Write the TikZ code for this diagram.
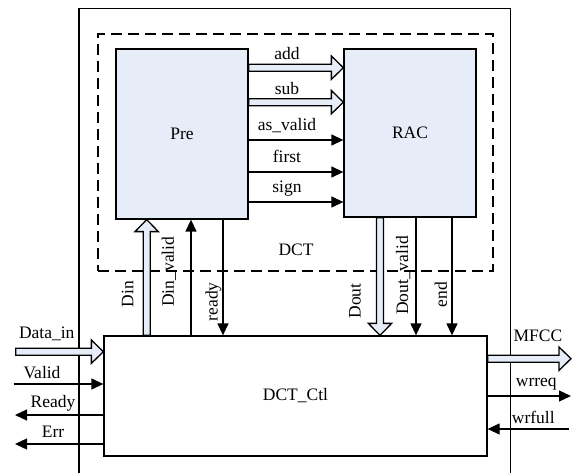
\documentclass[tikz,border=0pt]{standalone}
\usepackage{fontspec}
\setmainfont{Liberation Serif}
\usetikzlibrary{arrows.meta,calc}
\definecolor{boxfill}{HTML}{E6EDF8}
\begin{document}
\begin{tikzpicture}[x=1pt,y=-1pt,
  font=\fontsize{17.5}{20}\selectfont,
  box/.style={draw, fill=boxfill, rectangle, inner sep=0pt, line width=1.3pt},
  plainbox/.style={draw, fill=white, rectangle, inner sep=0pt, line width=1.3pt},
  dashbox/.style={draw, rectangle, inner sep=0pt, line width=2.3pt, dash pattern=on 11pt off 6pt},
  sig/.style={draw, line width=1.3pt, -{Triangle[length=12pt,width=11pt]}},
  lbl/.style={inner sep=0pt, anchor=base},
  vlbl/.style={inner sep=0pt, rotate=90},
  fat/.style={draw, fill=boxfill, line width=1.3pt, line join=miter},
  fatR/.style={fat, to path={let \p1=(\tikztostart), \p2=(\tikztotarget) in
     (\x1,\y1+3.5pt) -- (\x2-12pt,\y1+3.5pt) -- (\x2-12pt,\y1+11.7pt) -- (\x2,\y1)
     -- (\x2-12pt,\y1-11.7pt) -- (\x2-12pt,\y1-3.5pt) -- (\x1,\y1-3.5pt) -- cycle}},
  fatU/.style={fat, to path={let \p1=(\tikztostart), \p2=(\tikztotarget) in
     (\x1-3.5pt,\y1) -- (\x1-3.5pt,\y2-12pt) -- (\x1-11.7pt,\y2-12pt) -- (\x1,\y2)
     -- (\x1+11.7pt,\y2-12pt) -- (\x1+3.5pt,\y2-12pt) -- (\x1+3.5pt,\y1) -- cycle}},
  fatD/.style={fat, to path={let \p1=(\tikztostart), \p2=(\tikztotarget) in
     (\x1-3.5pt,\y1) -- (\x1-3.5pt,\y2+12pt) -- (\x1-11.7pt,\y2+12pt) -- (\x1,\y2)
     -- (\x1+11.7pt,\y2+12pt) -- (\x1+3.5pt,\y2+12pt) -- (\x1+3.5pt,\y1) -- cycle}}
]
\useasboundingbox (0,0) rectangle (573,473);

% outer frame
\draw[line width=1.2pt] (79,473) -- (79,8.3) -- (510.7,8.3) -- (510.7,473);

% DCT dashed region
\node[dashbox, minimum width=395pt, minimum height=237pt] (dctbox) at (295.5,152.5) {};
\node[lbl] (dctlbl) at (296,255) {DCT};

% blocks
\node[box, minimum width=132pt, minimum height=170pt] (Pre) at (182,134) {Pre};
\node[box, minimum width=132pt, minimum height=168pt] (RAC) at (410,133) {RAC};
\node[plainbox, minimum width=383pt, minimum height=120pt] (Ctl) at (295.5,396) {DCT\_Ctl};

% Pre -> RAC
\draw[fatR] (Pre.east |- 0,67.7) to (RAC.west |- 0,67.7);
\draw[fatR] (Pre.east |- 0,102.2) to (RAC.west |- 0,102.2);
\draw[sig] (Pre.east |- 0,140) -- (RAC.west |- 0,140);
\draw[sig] (Pre.east |- 0,172) -- (RAC.west |- 0,172);
\draw[sig] (Pre.east |- 0,202) -- (RAC.west |- 0,202);
\node[lbl] (ladd) at (287,59.3) {add};
\node[lbl] (lsub) at (287,95) {sub};
\node[lbl] (lasv) at (287,130.7) {as\_valid};
\node[lbl] (lfirst) at (287,162.7) {first};
\node[lbl] (lsign) at (287,192.7) {sign};

% Ctl <-> Pre
\draw[fatU] (Ctl.north -| 146.7,0) to (Pre.south -| 146.7,0);
\draw[sig] (Ctl.north -| 191,0) -- (Pre.south -| 191,0);
\draw[sig] (Pre.south -| 223,0) -- (Ctl.north -| 223,0);
\node[vlbl] (ldin) at (127.5,294) {Din};
\node[vlbl] (ldinv) at (169,271.7) {Din\_valid};
\node[vlbl] (lready) at (213.5,301.7) {ready};

% RAC -> Ctl
\draw[fatD] (RAC.south -| 380,0) to (Ctl.north -| 380,0);
\draw[sig] (RAC.south -| 416,0) -- (Ctl.north -| 416,0);
\draw[sig] (RAC.south -| 452,0) -- (Ctl.north -| 452,0);
\node[vlbl] (ldout) at (355,301) {Dout};
\node[vlbl] (ldoutv) at (403.3,275.5) {Dout\_valid};
\node[vlbl] (lend) at (441,294.7) {end};

% left side
\coordinate (dinL) at (15.7,351.7);
\coordinate (valL) at (13.5,384);
\coordinate (rdyL) at (15,415);
\coordinate (errL) at (15,444);
\draw[fatR] (dinL) to (Ctl.west |- dinL);
\draw[sig] (valL) -- (Ctl.west |- valL);
\draw[sig] (Ctl.west |- rdyL) -- (rdyL);
\draw[sig] (Ctl.west |- errL) -- (errL);
\node[lbl] (ldata) at (46.7,338.3) {Data\_in};
\node[lbl] (lvalid) at (42,378.3) {Valid};
\node[lbl] (lReady) at (53,407.3) {Ready};
\node[lbl] (lerr) at (53,437.7) {Err};

% right side
\coordinate (mfccR) at (571,358.7);
\coordinate (wrreqR) at (571,396);
\coordinate (wrfullR) at (569,429);
\draw[fatR] (Ctl.east |- mfccR) to (mfccR);
\draw[sig] (Ctl.east |- wrreqR) -- (wrreqR);
\draw[sig] (wrfullR) -- (Ctl.east |- wrfullR);
\node[lbl] (lmfcc) at (538,341.7) {MFCC};
\node[lbl] (lwrreq) at (536.3,386.7) {wrreq};
\node[lbl] (lwrfull) at (533.3,423.3) {wrfull};
\end{tikzpicture}
\end{document}
